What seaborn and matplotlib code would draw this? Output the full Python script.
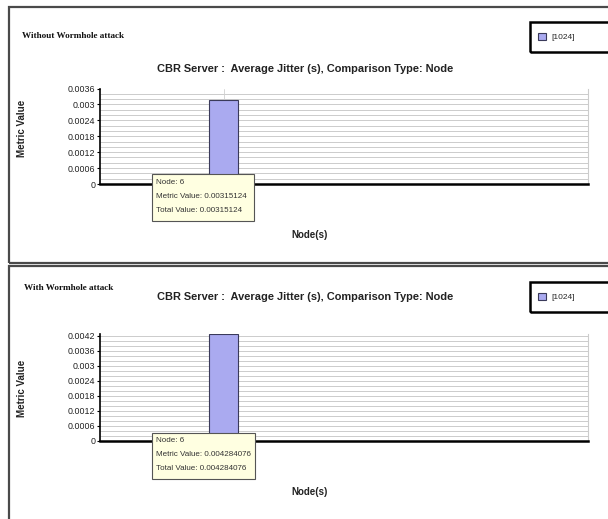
import matplotlib
matplotlib.use("Agg")
import matplotlib.pyplot as plt
import matplotlib.patches as mpatches
import seaborn as sns
import numpy as np

# ---- data ----
nodes = ["6"]
jitter_without = [0.00315124]
jitter_with = [0.004284076]
series_label = "[1024]"
ticks_without = [0, 0.0006, 0.0012, 0.0018, 0.0024, 0.003, 0.0036]
tick_labels_without = ["0", "0.0006", "0.0012", "0.0018", "0.0024", "0.003", "0.0036"]
ticks_with = [0, 0.0006, 0.0012, 0.0018, 0.0024, 0.003, 0.0036, 0.0042]
tick_labels_with = ["0", "0.0006", "0.0012", "0.0018", "0.0024", "0.003", "0.0036", "0.0042"]
title_text = "CBR Server :  Average Jitter (s), Comparison Type: Node"
panel_titles = ["Without Wormhole attack", "With Wormhole attack"]

sns.set_theme(style="white")
plt.rcParams['font.family'] = ['Liberation Sans', 'DejaVu Sans']

W, H = 608, 519
fig = plt.figure(figsize=(W / 100, H / 100), dpi=100)
fig.patch.set_facecolor("white")

def fx(x):
    return x / W

def fy(y):
    return 1 - y / H

def box(x0, y0, x1, y1):
    return [fx(x0), fy(y1), fx(x1) - fx(x0), fy(y0) - fy(y1)]

BAR_COLOR = "#aaaaf0"
BAR_EDGE = "#3a3a5a"

panels = [
    dict(vals=jitter_without, ticks=ticks_without, labels=tick_labels_without,
         ymax=0.0036, ax_box=(100, 88.5, 588, 184), border=(9, 7, 640, 263),
         title_y=69, ptitle=(22, 36), ylab_y=128, xlab_y=235,
         tip=(152, 174, 254, 221), legend_y=(22, 52)),
    dict(vals=jitter_with, ticks=ticks_with, labels=tick_labels_with,
         ymax=0.00429, ax_box=(100, 333.5, 588, 441), border=(9, 266, 640, 560),
         title_y=297, ptitle=(24, 288), ylab_y=388, xlab_y=492,
         tip=(152, 433, 255, 479), legend_y=(282, 312)),
]

for idx, p in enumerate(panels):
    # panel border
    bx0, by0, bx1, by1 = p["border"]
    fig.add_artist(mpatches.Rectangle((fx(bx0), fy(by1)), fx(bx1) - fx(bx0), fy(by0) - fy(by1),
                                      transform=fig.transFigure, fill=False,
                                      edgecolor="#4a4a4a", linewidth=1.6, zorder=0))

    ax = fig.add_axes(box(*p["ax_box"]))
    ax.set_facecolor("white")
    sns.barplot(x=nodes, y=p["vals"], ax=ax, color=BAR_COLOR, width=0.23,
                edgecolor=BAR_EDGE, linewidth=0.8, saturation=1, zorder=3)
    ax.set_xlim(-1.0, 2.95)
    ax.set_ylim(0, p["ymax"])
    # minor horizontal gridlines
    for gy in np.arange(0.0002, p["ymax"] + 1e-9, 0.0002):
        ax.axhline(gy, color="#c4c4c4", linewidth=0.6, zorder=1)
    ax.axvline(0, color="#d0d0d0", linewidth=0.6, zorder=1)
    ax.set_yticks(p["ticks"])
    ax.set_yticklabels(p["labels"], fontsize=6.4, color="#222222")
    ax.set_xticks([])
    ax.tick_params(axis="y", left=True, length=2.5, width=0.8, color="black", pad=1)
    ax.set_xlabel("")
    ax.set_ylabel("")
    ax.spines["top"].set_visible(False)
    ax.spines["right"].set_color("#cccccc")
    ax.spines["right"].set_linewidth(0.8)
    ax.spines["left"].set_color("black")
    ax.spines["left"].set_linewidth(1.2)
    ax.spines["bottom"].set_color("black")
    ax.spines["bottom"].set_linewidth(1.8)

    # texts
    fig.text(fx(305), fy(p["title_y"]), title_text, ha="center", va="center",
             fontsize=7.9, fontweight="bold", color="#222222")
    fig.text(fx(p["ptitle"][0]), fy(p["ptitle"][1]), panel_titles[idx],
             ha="left", va="center", fontsize=6.6, fontweight="bold",
             family=["Liberation Serif", "DejaVu Serif"], color="#111111")
    fig.text(fx(22), fy(p["ylab_y"]), "Metric Value", rotation=90, ha="center",
             va="center", fontsize=7, fontweight="bold", color="#222222")
    fig.text(fx(310), fy(p["xlab_y"]), "Node(s)", ha="center", va="center",
             fontsize=7, fontweight="bold", color="#222222")

    # tooltip
    tx0, ty0, tx1, ty1 = p["tip"]
    fig.add_artist(mpatches.Rectangle((fx(tx0), fy(ty1)), fx(tx1) - fx(tx0), fy(ty0) - fy(ty1),
                                      transform=fig.transFigure, facecolor="#ffffe1",
                                      edgecolor="#555555", linewidth=0.8, zorder=5))
    v = p["vals"][0]
    lines = [f"Node: {nodes[0]}", f"Metric Value: {v}", f"Total Value: {v}"]
    line_h = (ty1 - ty0) / 3.3
    for i, t in enumerate(lines):
        fig.text(fx(tx0 + 3.5), fy(ty0 + 8 + i * line_h), t, ha="left", va="center",
                 fontsize=5.8, color="#333333", zorder=6)

    # legend frame + legend
    ly0, ly1 = p["legend_y"]
    fig.add_artist(mpatches.Rectangle((fx(530), fy(ly1)), fx(640) - fx(530), fy(ly0) - fy(ly1),
                                      transform=fig.transFigure, fill=False,
                                      edgecolor="black", linewidth=1.8, zorder=4))
    handle = mpatches.Patch(facecolor=BAR_COLOR, edgecolor=BAR_EDGE, linewidth=0.8)
    fig.legend([handle], [series_label], loc="center left",
               bbox_to_anchor=(fx(538), fy((ly0 + ly1) / 2)), frameon=False,
               fontsize=6, handlelength=0.9, handleheight=1.0, handletextpad=0.7,
               borderpad=0, borderaxespad=0)

fig.savefig("out.png", dpi=100, facecolor="white")
